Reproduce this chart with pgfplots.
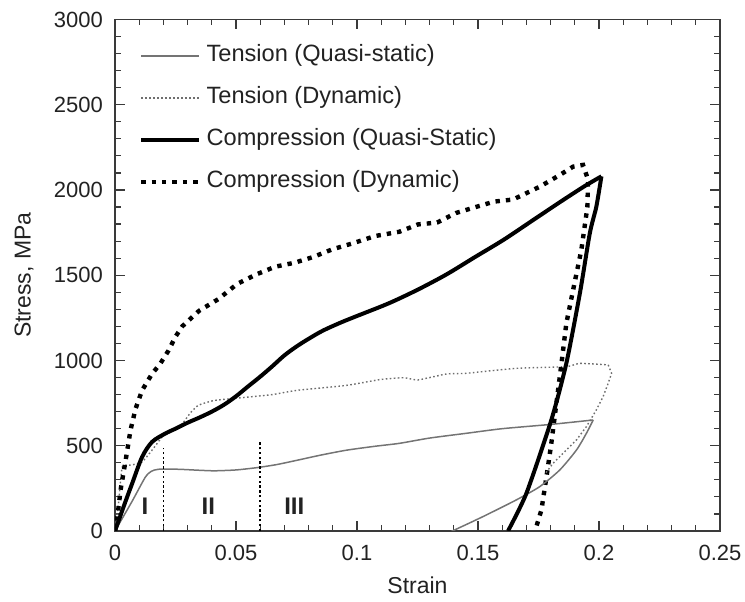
\documentclass[border=0pt]{standalone}
\usepackage{pgfplots}
\pgfplotsset{compat=1.18}
\usepackage{fontspec}
\setmainfont{Liberation Sans}
\definecolor{txt}{HTML}{222222}
\definecolor{axc}{HTML}{3A3A3A}
\definecolor{tqs}{HTML}{747474}
\definecolor{tdy}{HTML}{6E6E6E}
\begin{document}
\begin{tikzpicture}
\begin{axis}[
  width=302.5pt, height=255.75pt, scale only axis,
  xmin=0, xmax=0.25, ymin=0, ymax=3000,
  xtick={0,0.05,0.1,0.15,0.2,0.25},
  xticklabels={0,0.05,0.1,0.15,0.2,0.25},
  ytick={0,500,1000,1500,2000,2500,3000},
  yticklabels={0,500,1000,1500,2000,2500,3000},
  minor x tick num=4, minor y tick num=4,
  tick align=inside,
  major tick length=5pt, minor tick length=3pt,
  axis line style={axc, line width=0.7pt},
  every tick/.style={axc, line width=0.6pt},
  ticklabel style={font=\fontsize{11}{13}\selectfont, text=txt},
  xticklabel style={yshift=-3.5pt},
  yticklabel style={xshift=-2.5pt},
  xlabel={Strain}, ylabel={Stress, MPa},
  label style={font=\fontsize{11.5}{13}\selectfont, text=txt},
  xlabel style={at={(axis description cs:0.5,0)}, anchor=base, yshift=-31.5pt},
  ylabel style={at={(axis description cs:-0.1504,0.5)}, anchor=center},
  legend cell align=left,
  legend image code/.code={\draw[#1] (0pt,0pt) -- (29pt,0pt);},
  legend style={at={(axis description cs:0,1)}, anchor=north west,
    xshift=11.8pt, yshift=-12.5pt, draw=none, fill=none, inner sep=0pt,
    font=\fontsize{11.8}{13}\selectfont, text=txt,
    nodes={inner sep=0pt, text height=8.5pt, text depth=2.5pt},
    row sep=10pt, column sep=2.6pt},
]
\coordinate (bl) at (rel axis cs:0,0);
\coordinate (tr) at (rel axis cs:1,1);

% Tension (Quasi-static)
\addplot[tqs, line width=0.75pt, smooth, tension=0.4] coordinates {
(0,0) (0.0071,175) (0.0125,315) (0.0150,350) (0.018,362) (0.0262,362)
(0.035,356) (0.0412,353) (0.05,358) (0.0589,372) (0.067,390) (0.0753,415)
(0.085,445) (0.0957,474) (0.1075,497) (0.1175,514) (0.13,545) (0.1452,573)
(0.16,600) (0.18,625) (0.1976,651)
};
\addlegendentry{Tension (Quasi-static)}

% Tension (Dynamic)
\addplot[tdy, line width=0.7pt, dash pattern=on 0.8pt off 1.2pt, smooth, tension=0.3] coordinates {
(0,0) (0.0016,181) (0.003,376) (0.0065,386) (0.0112,405) (0.0153,474)
(0.0207,571) (0.0275,625) (0.031,690) (0.0344,737) (0.0412,766) (0.0548,785) (0.065,800)
(0.0753,825) (0.0957,854) (0.1095,888) (0.1193,899) (0.1252,886) (0.137,921)
(0.1452,925) (0.1658,954) (0.1865,964) (0.1921,983) (0.2038,974)
};
\addlegendentry{Tension (Dynamic)}

% Compression (Quasi-Static)
\addplot[black, line width=2pt, smooth, tension=0.5] coordinates {
(0,0) (0.004,160) (0.0071,279) (0.0112,434) (0.0153,522) (0.0207,571)
(0.025,600) (0.03,635) (0.035,666) (0.04,700) (0.045,740) (0.05,790)
(0.055,848) (0.06,905) (0.065,966) (0.07,1030) (0.075,1082) (0.08,1127)
(0.0859,1175) (0.0937,1225)
(0.1016,1270) (0.1134,1337) (0.1252,1416) (0.137,1505) (0.1488,1607)
(0.1606,1708) (0.1724,1820) (0.1842,1932) (0.194,2022) (0.201,2080)
};
\addlegendentry{Compression (Quasi-Static)}

% Compression (Dynamic)
\addplot[black, line width=2.2pt, dash pattern=on 2.2pt off 3pt] coordinates {
(0,0) (0.001,84) (0.0023,240) (0.0044,415) (0.0064,591) (0.0085,717)
(0.0112,825) (0.0153,922) (0.0187,981) (0.0221,1058) (0.025,1140)
(0.0279,1202) (0.0348,1292) (0.0426,1359) (0.0505,1449) (0.0584,1505)
(0.0662,1550) (0.0741,1573) (0.0819,1607) (0.0898,1652) (0.0977,1685)
(0.1075,1730) (0.1175,1755) (0.1252,1798) (0.1331,1809) (0.1409,1865)
(0.1488,1899) (0.1567,1932) (0.1645,1944) (0.1755,2019) (0.1838,2088)
(0.1893,2137) (0.1934,2147) (0.1955,2060) (0.1952,1900) (0.1927,1648)
(0.1893,1413) (0.1865,1218) (0.1845,983) (0.1824,749) (0.1803,514)
(0.1783,318) (0.1762,123) (0.1741,25) (0.1736,0)
};
\addlegendentry{Compression (Dynamic)}

% unloading branches
\addplot[tqs, line width=0.75pt, smooth, tension=0.4, forget plot] coordinates {
(0.1976,651) (0.1948,573) (0.1907,475) (0.1838,358) (0.1755,260) (0.1658,182)
(0.152,84) (0.1403,6) (0.139,0)
};
\addplot[tdy, line width=0.7pt, dash pattern=on 0.8pt off 1.2pt, forget plot] coordinates {
(0.2038,974) (0.2052,925) (0.2038,866) (0.2017,788) (0.1989,710) (0.1948,612)
(0.1907,534) (0.1852,456) (0.181,397) (0.178,340)
};
\addplot[black, line width=2pt, smooth, tension=0.4, forget plot] coordinates {
(0.201,2080) (0.1989,1902) (0.1962,1746) (0.1921,1394) (0.1865,983) (0.1803,651)
(0.1700,221) (0.1624,0)
};

% region boundaries
\addplot[black, line width=0.8pt, dash pattern=on 1.2pt off 1.2pt, forget plot] coordinates {(0.02,0) (0.02,489)};
\addplot[black, line width=0.8pt, dash pattern=on 1.2pt off 1.2pt, forget plot] coordinates {(0.06,0) (0.06,520)};

\node[font=\fontsize{12}{14}\selectfont\bfseries, text=txt] at (axis cs:0.0124,147) {I};
\node[font=\fontsize{12}{14}\selectfont\bfseries, text=txt] at (axis cs:0.0386,147) {II};
\node[font=\fontsize{12}{14}\selectfont\bfseries, text=txt] at (axis cs:0.0741,147) {III};
\end{axis}
\pgfresetboundingbox
\useasboundingbox ([xshift=-57.5pt,yshift=-35.5pt]bl) rectangle ([xshift=12.5pt,yshift=9.75pt]tr);
\end{tikzpicture}
\end{document}
